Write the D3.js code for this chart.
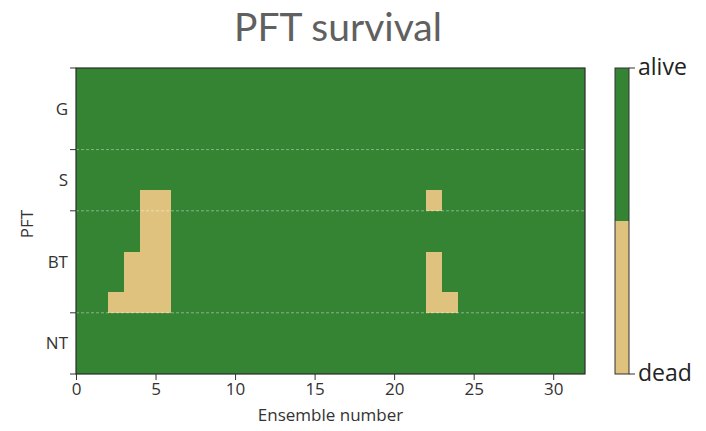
<!DOCTYPE html>
<html><head><meta charset="utf-8">
<script src="https://cdn.jsdelivr.net/npm/d3@7"></script>
<style>
body{margin:0;background:#fff;}
svg text{font-family:"Open Sans","Noto Sans",sans-serif;}
</style></head>
<body><svg id="c" width="706" height="431"></svg>
<script>
// ---- data ----
const nEnsemble = 32;
const pftLabels = ["G", "S", "BT", "NT"];
const pftRowCounts = [4, 3, 5, 3];          // sub-rows per PFT, top to bottom
const xTickValues = [0, 5, 10, 15, 20, 25, 30];
const statusLabels = ["dead", "alive"];
// dead cells: [ensemble index, row index from top]
const deadCells = [
  [2, 11],
  [3, 9], [3, 10], [3, 11],
  [4, 6], [4, 7], [4, 8], [4, 9], [4, 10], [4, 11],
  [5, 6], [5, 7], [5, 8], [5, 9], [5, 10], [5, 11],
  [22, 6], [22, 9], [22, 10], [22, 11],
  [23, 11]
];
const colors = {dead: "#dfc27d", alive: "#358434"};

// ---- build grid ----
const nRows = d3.sum(pftRowCounts);
const deadSet = new Set(deadCells.map(d => d[0] + "_" + d[1]));
const cells = [];
for (let e = 0; e < nEnsemble; e++)
  for (let r = 0; r < nRows; r++)
    cells.push({e, r, status: deadSet.has(e + "_" + r) ? "dead" : "alive"});

const svg = d3.select("#c");
const L = 76, R = 585, T = 68, B = 374;
const x = d3.scaleLinear().domain([0, nEnsemble]).range([L, R]);
const y = d3.scaleLinear().domain([0, nRows]).range([T, B]);

const g = svg.append("g").attr("shape-rendering", "crispEdges");
g.selectAll("rect.cell").data(cells).join("rect")
  .attr("class", "cell")
  .attr("x", d => x(d.e)).attr("y", d => y(d.r))
  .attr("width", d => x(d.e + 1) - x(d.e)).attr("height", d => y(d.r + 1) - y(d.r))
  .attr("fill", d => colors[d.status]);

// boundaries between PFTs
const bounds = [0];
pftRowCounts.forEach(c => bounds.push(bounds[bounds.length - 1] + c));
const mids = pftRowCounts.map((c, i) => bounds[i] + c / 2);

svg.append("g").selectAll("line.sep").data(bounds.slice(1, -1)).join("line")
  .attr("class", "sep")
  .attr("x1", L).attr("x2", R)
  .attr("y1", d => y(d)).attr("y2", d => y(d))
  .attr("stroke", "rgba(255,255,255,0.4)").attr("stroke-width", 1)
  .attr("stroke-dasharray", "3,2");

// frame
svg.append("rect").attr("x", L).attr("y", T).attr("width", R - L).attr("height", B - T)
  .attr("fill", "none").attr("stroke", "#2b2b2b").attr("stroke-width", 1.2);

// x axis
const xAxis = svg.append("g").attr("transform", `translate(0,${B})`)
  .call(d3.axisBottom(x).tickValues(xTickValues).tickSize(6).tickPadding(3));
xAxis.select(".domain").remove();
xAxis.selectAll("text").attr("font-size", 17).attr("fill", "#333");
xAxis.selectAll("line").attr("stroke", "#333");

// y axis: ticks at boundaries, labels at mids
svg.append("g").selectAll("line").data(bounds).join("line")
  .attr("x1", L - 6).attr("x2", L).attr("y1", d => y(d)).attr("y2", d => y(d))
  .attr("stroke", "#333");
svg.append("g").selectAll("text").data(pftLabels).join("text")
  .attr("x", L - 8).attr("y", (d, i) => y(mids[i]))
  .attr("dy", "0.35em").attr("text-anchor", "end")
  .attr("font-size", 17).attr("fill", "#333").text(d => d);

// axis titles
svg.append("text").attr("x", (L + R) / 2).attr("y", 421).attr("text-anchor", "middle")
  .attr("font-size", 17).attr("fill", "#333").text("Ensemble number");
svg.append("text").attr("transform", `translate(33,${(T + B) / 2 + 3}) rotate(-90)`)
  .attr("text-anchor", "middle").attr("font-size", 17).attr("fill", "#333").text("PFT");

// title
svg.append("text").attr("x", 338).attr("y", 41).attr("text-anchor", "middle")
  .style("font-family", "Lato, sans-serif").attr("font-size", 39).attr("fill", "#606060")
  .text("PFT survival");

// colorbar
const cbL = 615, cbW = 14;
const cy = d3.scaleBand().domain(statusLabels.slice().reverse()).range([T, B]);
svg.append("g").attr("shape-rendering", "crispEdges").selectAll("rect").data(statusLabels).join("rect")
  .attr("x", cbL).attr("y", d => cy(d)).attr("width", cbW).attr("height", cy.bandwidth())
  .attr("fill", d => colors[d]);
svg.append("rect").attr("x", cbL).attr("y", T).attr("width", cbW).attr("height", B - T)
  .attr("fill", "none").attr("stroke", "#333").attr("stroke-width", 1);
const cbTick = d3.scaleOrdinal().domain(statusLabels).range([B, T]);
svg.append("g").selectAll("line").data(statusLabels).join("line")
  .attr("x1", cbL + cbW).attr("x2", cbL + cbW + 6)
  .attr("y1", d => cbTick(d)).attr("y2", d => cbTick(d)).attr("stroke", "#333");
svg.append("g").selectAll("text").data(statusLabels).join("text")
  .attr("x", cbL + cbW + 9).attr("y", d => cbTick(d)).attr("dy", "0.32em")
  .attr("font-size", 23).attr("fill", "#222").text(d => d);
</script></body></html>
